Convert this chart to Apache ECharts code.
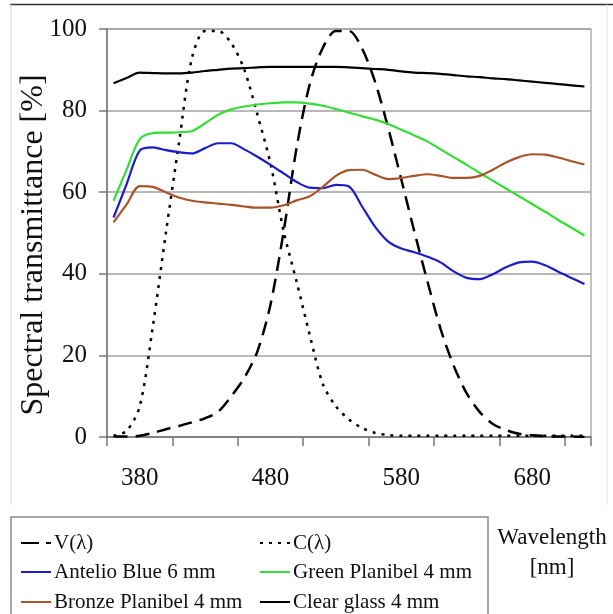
<!DOCTYPE html>
<html>
<head>
<meta charset="utf-8">
<script src="https://cdn.jsdelivr.net/npm/echarts@6/dist/echarts.min.js"></script>
<style>
  html, body { margin: 0; padding: 0; background: #ffffff; }
  #chart { width: 613px; height: 614px; }
</style>
</head>
<body>
<div id="chart"></div>
<script>
// Wavelength samples, 10 nm steps
const wavelengths = [380, 390, 400, 410, 420, 430, 440, 450, 460, 470, 480, 490, 500,
  510, 520, 530, 540, 550, 560, 570, 580, 590, 600, 610, 620, 630, 640, 650, 660,
  670, 680, 690, 700, 710, 720, 730, 740];

// Axis tick labels shown under the wavelength axis
const xTickLabels = ['380', '480', '580', '680'];
const yTicks = [0, 20, 40, 60, 80, 100];

// Photopic luminous efficiency V(λ), %
const vLambda = [0.2, 0.1, 0.3, 1.0, 1.9, 2.7, 3.6, 4.6, 6.2, 10.0, 14.5, 21.0, 32.5,
  50.3, 71.0, 86.5, 95.4, 99.5, 99.5, 95.2, 87.0, 75.7, 63.1, 50.3, 38.1, 26.5, 17.5,
  10.7, 6.1, 3.2, 1.7, 0.8, 0.4, 0.2, 0.1, 0.1, 0.0];

// Circadian efficiency C(λ), %
const cLambda = [0.3, 1.5, 7.5, 27.0, 50.0, 72.0, 93.0, 99.5, 99.5, 96.5, 90.0, 79.0,
  67.0, 50.5, 38.0, 25.0, 13.0, 7.5, 4.3, 2.2, 1.0, 0.5, 0.3, 0.3, 0.3, 0.3, 0.3,
  0.3, 0.3, 0.3, 0.3, 0.3, 0.3, 0.3, 0.3, 0.3, 0.3];

// Spectral transmittance of the glazings, %
const antelioBlue = [53.8, 62.0, 70.2, 71.0, 70.3, 69.8, 69.5, 70.8, 72.0, 72.0, 70.5,
  68.7, 66.7, 64.6, 62.5, 61.1, 61.0, 61.8, 61.4, 56.5, 51.5, 47.9, 46.2, 45.3, 44.2,
  42.8, 40.6, 39.0, 38.7, 39.9, 41.6, 42.8, 43.0, 42.1, 40.5, 39.0, 37.5];

const greenPlanibel = [57.9, 65.5, 73.0, 74.5, 74.6, 74.7, 75.0, 76.9, 79.0, 80.3, 81.0,
  81.5, 81.8, 82.0, 82.0, 81.7, 81.2, 80.4, 79.5, 78.6, 77.8, 76.7, 75.3, 73.9, 72.4,
  70.5, 68.6, 66.7, 64.7, 62.8, 60.9, 59.0, 57.1, 55.2, 53.2, 51.3, 49.4];

const bronzePlanibel = [52.6, 57.0, 61.5, 61.3, 60.0, 58.7, 57.9, 57.5, 57.2, 56.9, 56.5,
  56.2, 56.2, 56.8, 58.0, 59.0, 61.3, 64.0, 65.4, 65.5, 64.3, 63.2, 63.5, 64.0, 64.4,
  64.0, 63.5, 63.5, 64.0, 65.5, 67.3, 68.6, 69.3, 69.2, 68.5, 67.6, 66.8];

const clearGlass = [86.7, 88.0, 89.3, 89.2, 89.1, 89.1, 89.3, 89.7, 90.0, 90.3, 90.4,
  90.6, 90.7, 90.7, 90.7, 90.7, 90.7, 90.7, 90.6, 90.4, 90.2, 90.0, 89.6, 89.3, 89.2,
  89.0, 88.7, 88.4, 88.2, 87.9, 87.7, 87.4, 87.1, 86.8, 86.5, 86.2, 85.9];

const SERIF = '"Liberation Serif", "Times New Roman", serif';

// Labels sit every tenth category, starting at the third one
const labelFor = (index) => (index % 10 === 2 ? xTickLabels[(index - 2) / 10] : '');

function lineSeries(name, data, color, type, width) {
  return {
    name: name,
    type: 'line',
    data: data,
    symbol: 'none',
    smooth: 0.3,
    lineStyle: { color: color, width: width, type: type, cap: 'butt' },
    itemStyle: { color: color },
    emphasis: { disabled: true },
    z: 3
  };
}

// One legend entry per slot of the two-column key
function legendEntry(name, left, top, lineStyle) {
  const entry = {
    left: left, top: top,
    itemWidth: 30, itemHeight: 12, itemGap: 0,
    itemStyle: { opacity: 0 },
    selectedMode: false,
    textStyle: { fontFamily: SERIF, fontSize: 21, color: '#111', lineHeight: 22, padding: [0, 0, 0, -2] },
    data: [name]
  };
  if (lineStyle) entry.lineStyle = lineStyle;
  return entry;
}

const chart = echarts.init(document.getElementById('chart'), null, { renderer: 'canvas' });
chart.setOption({
  animation: false,
  backgroundColor: '#ffffff',
  grid: {
    left: 107, top: 29, right: 22, bottom: 177,
    show: true, borderColor: '#9a9a9a', borderWidth: 1.2, backgroundColor: 'transparent'
  },
  xAxis: {
    type: 'category',
    data: wavelengths,
    boundaryGap: true,
    axisLine: { show: true, lineStyle: { color: '#777', width: 1.5 } },
    axisTick: { show: true, interval: 4, length: 9, lineStyle: { color: '#777', width: 1.5 } },
    axisLabel: {
      interval: (index) => index % 10 === 2,
      formatter: (value, index) => labelFor(index),
      fontFamily: SERIF, fontSize: 25, color: '#111', margin: 29
    },
    splitLine: { show: false }
  },
  yAxis: {
    type: 'value',
    min: yTicks[0], max: yTicks[yTicks.length - 1], interval: 20,
    axisLine: { show: true, lineStyle: { color: '#777', width: 1.5 } },
    axisTick: { show: true, length: 8, lineStyle: { color: '#777', width: 1.5 } },
    axisLabel: { fontFamily: SERIF, fontSize: 25, color: '#111', margin: 20 },
    splitLine: { show: true, lineStyle: { color: '#a0a0a0', width: 1.5 } }
  },
  legend: [
    legendEntry('V(λ)', 15, 527, { type: [18, 7] }),
    legendEntry('Antelio Blue 6 mm', 15, 556),
    legendEntry('Bronze Planibel 4 mm', 15, 586),
    legendEntry('C(λ)', 254, 527),
    legendEntry('Green Planibel 4 mm', 254, 556),
    legendEntry('Clear glass 4 mm', 254, 586)
  ],
  graphic: [
    // outer chart frame
    { type: 'line', shape: { x1: 10, y1: 4.5, x2: 613, y2: 4.5 }, style: { stroke: '#333', lineWidth: 1.5 }, silent: true },
    { type: 'line', shape: { x1: 11, y1: 4.5, x2: 11, y2: 505 }, style: { stroke: '#d8d8d8', lineWidth: 1 }, silent: true },
    { type: 'line', shape: { x1: 607, y1: 4.5, x2: 607, y2: 505 }, style: { stroke: '#e0e0e0', lineWidth: 1 }, silent: true },
    // legend box
    { type: 'rect', shape: { x: 11, y: 517, width: 477, height: 110 }, style: { fill: 'none', stroke: '#8a8a8a', lineWidth: 1.5 }, silent: true, z: -1 },
    // value axis title
    {
      type: 'text', x: 34, y: 245, rotation: Math.PI / 2,
      style: { text: 'Spectral transmittance [%]', font: '32px ' + SERIF, fill: '#111', align: 'center', verticalAlign: 'middle' },
      silent: true
    },
    // wavelength axis title
    { type: 'text', x: 552, y: 538, style: { text: 'Wavelength', font: '23px ' + SERIF, fill: '#111', align: 'center', verticalAlign: 'middle' }, silent: true },
    { type: 'text', x: 552, y: 568, style: { text: '[nm]', font: '23px ' + SERIF, fill: '#111', align: 'center', verticalAlign: 'middle' }, silent: true }
  ],
  series: [
    lineSeries('V(λ)', vLambda, '#000000', [14, 8], 2.5),
    lineSeries('C(λ)', cLambda, '#000000', [3, 6], 2.5),
    lineSeries('Antelio Blue 6 mm', antelioBlue, '#1c1cc8', 'solid', 2.2),
    lineSeries('Green Planibel 4 mm', greenPlanibel, '#33dd33', 'solid', 2.2),
    lineSeries('Bronze Planibel 4 mm', bronzePlanibel, '#a9532b', 'solid', 2.2),
    lineSeries('Clear glass 4 mm', clearGlass, '#000000', 'solid', 2.2)
  ]
});
</script>
</body>
</html>
